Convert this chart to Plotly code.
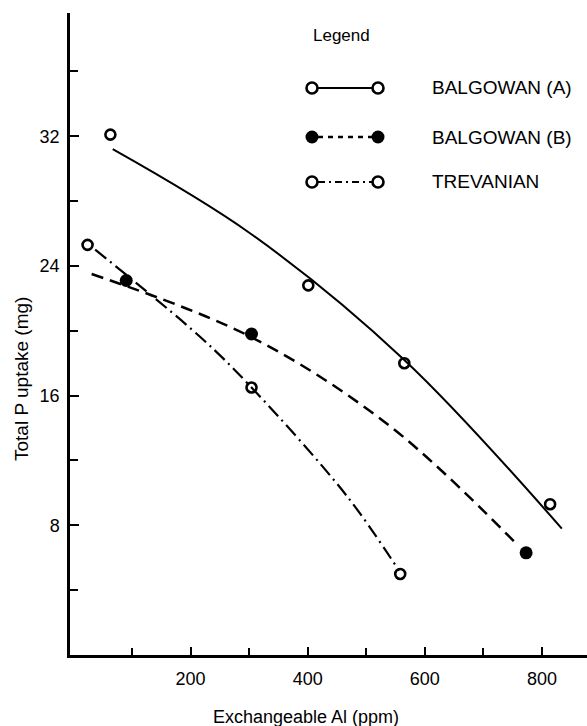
import plotly.graph_objects as go

# ---- data ----
# Observed points
a_x = [63, 401, 565, 814]
a_y = [32.1, 22.8, 18.0, 9.3]
b_x = [90, 304, 773]
b_y = [23.1, 19.8, 6.3]
t_x = [24, 304, 558]
t_y = [25.3, 16.5, 5.0]

# Hand-drawn fitted curves
a_curve_x = [67, 302, 565, 834]
a_curve_y = [31.2, 26.0, 18.2, 7.8]
b_curve_x = [31, 304, 541, 758]
b_curve_y = [23.5, 19.6, 14.1, 6.8]
t_curve_x = [37, 217, 304, 467, 556]
t_curve_y = [25.0, 19.6, 16.5, 9.8, 5.2]

series_names = ["BALGOWAN (A)", "BALGOWAN (B)", "TREVANIAN"]
x_ticks = [200, 400, 600, 800]
x_minor = [100, 300, 500, 700]
y_ticks = [8, 16, 24, 32]
y_minor = [4, 12, 20, 28, 36]

FONT = "Liberation Sans, Arial, sans-serif"
INK = "#000000"
W, H = 587, 726
L, R, T, B = 70, 0, 13, 71

def px(xp):
    return (xp - L) / (W - L - R)

def py(yp):
    return (H - B - yp) / (H - B - T)

fig = go.Figure()

# curves
fig.add_trace(go.Scatter(x=a_curve_x, y=a_curve_y, mode="lines", line_shape="spline",
                         line=dict(color=INK, width=2), showlegend=False, hoverinfo="skip"))
fig.add_trace(go.Scatter(x=b_curve_x, y=b_curve_y, mode="lines", line_shape="spline",
                         line=dict(color=INK, width=2.5, dash="12px,7px"), showlegend=False, hoverinfo="skip"))
fig.add_trace(go.Scatter(x=t_curve_x, y=t_curve_y, mode="lines", line_shape="spline",
                         line=dict(color=INK, width=2.2, dash="14px,5px,2px,5px"), showlegend=False, hoverinfo="skip"))

# points
open_marker = dict(symbol="circle-open", size=10, color=INK, line=dict(width=2.6, color=INK))
fig.add_trace(go.Scatter(x=a_x, y=a_y, mode="markers", marker=open_marker, name=series_names[0], showlegend=False))
fig.add_trace(go.Scatter(x=b_x, y=b_y, mode="markers",
                         marker=dict(symbol="circle", size=13, color=INK), name=series_names[1], showlegend=False))
fig.add_trace(go.Scatter(x=t_x, y=t_y, mode="markers", marker=open_marker, name=series_names[2], showlegend=False))

# ---- hand-drawn style legend ----
shapes = []
annotations = []
annotations.append(dict(text="Legend", x=px(311), y=py(36), xref="paper", yref="paper",
                        xanchor="left", yanchor="middle", showarrow=False,
                        font=dict(family=FONT, size=17, color=INK)))
legend_rows = [(88, "solid", False, 2), (137, "5px,5px", True, 2.5), (182, "7px,4px,2px,4px", False, 1.8)]
for (ry, dash, filled, lw), name in zip(legend_rows, series_names):
    shapes.append(dict(type="line", xref="paper", yref="paper",
                       x0=px(318), x1=px(372), y0=py(ry), y1=py(ry),
                       line=dict(color=INK, width=lw, dash=dash)))
    for cx in (312, 378):
        r = 6.5 if filled else 5.5
        shapes.append(dict(type="circle", xref="paper", yref="paper",
                           xsizemode="pixel", ysizemode="pixel",
                           xanchor=px(cx), yanchor=py(ry),
                           x0=-r, x1=r, y0=-r, y1=r,
                           fillcolor=INK if filled else "white",
                           line=dict(color=INK, width=0 if filled else 2.6)))
    annotations.append(dict(text=name, x=px(430), y=py(ry), xref="paper", yref="paper",
                            xanchor="left", yanchor="middle", showarrow=False,
                            font=dict(family=FONT, size=19, color=INK)))

# axis titles
annotations.append(dict(text="Exchangeable Al (ppm)", x=px(306), y=py(717), xref="paper", yref="paper",
                        xanchor="center", yanchor="middle", showarrow=False,
                        font=dict(family=FONT, size=18, color=INK)))
annotations.append(dict(text="Total P uptake (mg)", x=px(22), y=py(379), xref="paper", yref="paper",
                        xanchor="center", yanchor="middle", showarrow=False, textangle=-90,
                        font=dict(family=FONT, size=19, color=INK)))

fig.update_layout(
    width=W, height=H,
    margin=dict(l=L, r=R, t=T, b=B, pad=0),
    paper_bgcolor="white", plot_bgcolor="white",
    showlegend=False,
    shapes=shapes, annotations=annotations,
    font=dict(family=FONT, color=INK, size=18),
)
fig.update_xaxes(range=[-6, 877], showgrid=False, zeroline=False,
                 showline=True, linecolor=INK, linewidth=2.5,
                 tickvals=x_ticks, ticks="inside", ticklen=8, tickwidth=2, tickcolor=INK,
                 tickfont=dict(family=FONT, size=18, color=INK), ticklabelstandoff=6,
                 minor=dict(tickvals=x_minor, ticks="inside", ticklen=7, tickwidth=2, tickcolor=INK))
fig.update_yaxes(range=[0, 39.6], showgrid=False, zeroline=False,
                 showline=True, linecolor=INK, linewidth=2.5,
                 tickvals=y_ticks, ticks="inside", ticklen=9, tickwidth=2, tickcolor=INK,
                 tickfont=dict(family=FONT, size=18, color=INK), ticklabelstandoff=4,
                 minor=dict(tickvals=y_minor, ticks="inside", ticklen=8, tickwidth=2, tickcolor=INK))

fig.write_html("out.html")
